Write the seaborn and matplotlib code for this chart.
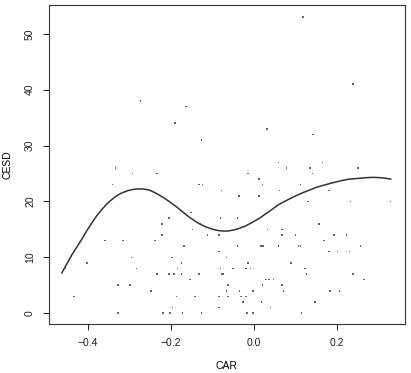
import numpy as np
import pandas as pd
import matplotlib
matplotlib.use('Agg')
import matplotlib.pyplot as plt
import seaborn as sns

# scatter points, grouped by CESD value
car = [0.119, 0.239, -0.273, -0.164, -0.190, 0.032, 0.143, -0.126,
       0.059, 0.165,
       -0.333, 0.079, 0.135, 0.251,
       -0.292, -0.234, -0.014, 0.141,
       0.013,
       -0.341, -0.132, -0.124, 0.021, 0.113,
       -0.078, 0.062, 0.181,
       -0.036, 0.012,
       0.131, 0.233, 0.330,
       -0.152,
       -0.205, -0.080, -0.039,
       -0.222, -0.128, 0.157,
       -0.148, -0.092, -0.039, 0.033, 0.068,
       -0.222, -0.112, -0.084, 0.068, 0.100, 0.193, 0.223,
       -0.359, -0.316, -0.238, 0.169,
       -0.168, -0.039, 0.017, 0.022, 0.060, 0.108, 0.113, 0.257,
       -0.084, 0.181, 0.202, 0.231,
       -0.295, -0.197, -0.066,
       -0.402, -0.174, -0.014, 0.089,
       -0.455, -0.283, -0.184, -0.080, -0.050, -0.019, -0.008, 0.123,
       -0.234, -0.205, -0.192, -0.174, -0.132, -0.078, -0.074, 0.127, 0.239,
       -0.154, 0.029, 0.037, 0.047, 0.266,
       -0.327, -0.299, -0.062, 0.021, 0.068,
       -0.248, -0.066, -0.035, -0.002, 0.071, 0.183, 0.207,
       -0.434, -0.186, -0.142, -0.084, -0.062, -0.031, -0.019,
       -0.026, 0.019, 0.147,
       -0.196, -0.084, 0.040,
       -0.327, -0.219, -0.202, -0.172, -0.126, -0.016, -0.002, 0.115]
cesd = [53, 41, 38, 37, 34, 33, 32, 31,
        27, 27,
        26, 26, 26, 26,
        25, 25, 25, 25,
        24,
        23, 23, 23, 23, 23,
        22, 22, 22,
        21, 21,
        20, 20, 20,
        18,
        17, 17, 17,
        16, 16, 16,
        15, 15, 15, 15, 15,
        14, 14, 14, 14, 14, 14, 14,
        13, 13, 13, 13,
        12, 12, 12, 12, 12, 12, 12, 12,
        11, 11, 11, 11,
        10, 10, 10,
        9, 9, 9, 9,
        8, 8, 8, 8, 8, 8, 8, 8,
        7, 7, 7, 7, 7, 7, 7, 7, 7,
        6, 6, 6, 6, 6,
        5, 5, 5, 5, 5,
        4, 4, 4, 4, 4, 4, 4,
        3, 3, 3, 3, 3, 3, 3,
        2, 2, 2,
        1, 1, 1,
        0, 0, 0, 0, 0, 0, 0, 0]

# smooth curve
curve_x = [-0.463, -0.451, -0.439, -0.427, -0.415, -0.403, -0.391, -0.379, -0.367,
           -0.355, -0.343, -0.331, -0.319, -0.303, -0.287, -0.275, -0.263,
           -0.251, -0.239, -0.227, -0.216, -0.206, -0.196, -0.186,
           -0.176, -0.166, -0.156, -0.146, -0.136, -0.126, -0.116, -0.106,
           -0.098, -0.090, -0.082, -0.074, -0.064, -0.055, -0.045, -0.034,
           -0.022, -0.010, 0.002, 0.014, 0.025, 0.037, 0.048, 0.059, 0.074,
           0.090, 0.104, 0.119, 0.135, 0.150, 0.166, 0.183, 0.199, 0.215,
           0.231, 0.247, 0.263, 0.280, 0.292, 0.305, 0.318, 0.330]
curve_y = [7.2, 8.8, 10.4, 11.8, 13.2, 14.7, 16.1, 17.4, 18.5,
           19.5, 20.3, 21.0, 21.5, 21.95, 22.2, 22.25, 22.2,
           22.0, 21.6, 21.1, 20.6, 20.1, 19.55, 19.0,
           18.4, 17.8, 17.2, 16.7, 16.2, 15.8, 15.45, 15.2,
           15.0, 14.85, 14.75, 14.7, 14.7, 14.8, 14.95, 15.2,
           15.55, 16.0, 16.5, 17.0, 17.6, 18.2, 18.8, 19.4, 20.0,
           20.6, 21.1, 21.6, 22.05, 22.5, 22.85, 23.2, 23.5, 23.8,
           24.0, 24.1, 24.2, 24.3, 24.3, 24.25, 24.15, 24.0]

df = pd.DataFrame({'CAR': car, 'CESD': cesd})
fit = pd.DataFrame({'CAR': curve_x, 'CESD': curve_y})

plt.rcParams['font.family'] = ['Liberation Sans', 'DejaVu Sans']

fig = plt.figure(figsize=(4.11, 3.73), dpi=100)
ax = fig.add_axes([0.119, 0.131, 0.866, 0.856])

sns.scatterplot(data=df, x='CAR', y='CESD', ax=ax, s=1.2, color='#666666',
                edgecolor='none', marker='s')
sns.lineplot(data=fit, x='CAR', y='CESD', ax=ax, color='#333333', linewidth=1.1,
             sort=False)

ax.set_xlim(-0.494, 0.364)
ax.set_ylim(-1.97, 55.2)
ax.set_xticks([-0.4, -0.2, 0.0, 0.2])
ax.set_xticklabels(['\u22120.4', '\u22120.2', '0.0', '0.2'])
ax.set_yticks([0, 10, 20, 30, 40, 50])
ax.tick_params(direction='out', length=4, width=0.7, labelsize=7.5, pad=6,
               colors='#222222')
for lab in ax.get_yticklabels():
    lab.set_rotation(90)
    lab.set_va('center')
for sp in ax.spines.values():
    sp.set_linewidth(0.8)
    sp.set_color('#333333')
ax.set_xlabel('CAR', fontsize=7.5, labelpad=9)
ax.set_ylabel('CESD', fontsize=7.5, labelpad=9)

fig.savefig('out.png', dpi=100)
